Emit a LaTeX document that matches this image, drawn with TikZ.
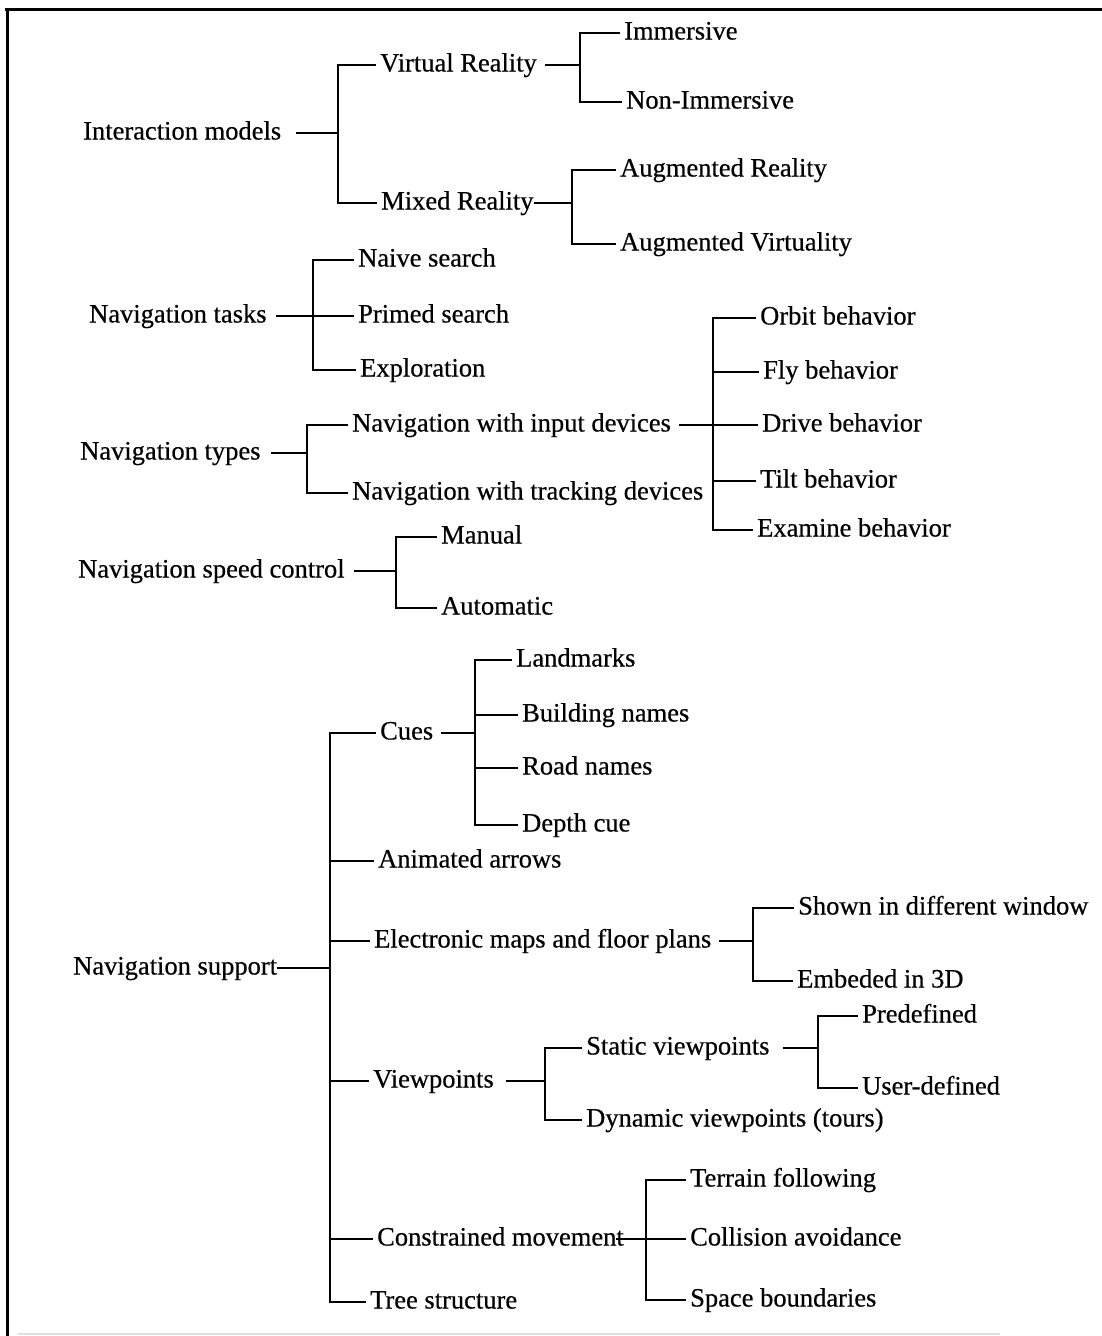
\documentclass[tikz,border=0pt]{standalone}
\usepackage{fontspec}
\setmainfont{Liberation Serif}
\newfontfamily\treefont{Liberation Serif}[FakeBold=0.5]
\begin{document}
\begin{tikzpicture}[x=1pt,y=-1pt,
  lbl/.style={anchor=west, inner xsep=4pt, inner ysep=0pt,
    text height=18pt, text depth=5pt, font=\treefont\fontsize{26.5}{30}\selectfont},
  link/.style={line width=2.8pt, line join=miter},
  frameline/.style={line width=3pt}]
\useasboundingbox (0,0) rectangle (1102,1336);

% outer frame
\draw[frameline] (5,9) -- (1102,9);
\draw[frameline] (7,7.5) -- (7,1336);
\draw[gray!25, line width=2pt] (18,1334) -- (1000,1334);

% bracket columns
\coordinate (b1) at (338,0);
\coordinate (b2) at (580,0);
\coordinate (b3) at (572,0);
\coordinate (b4) at (313,0);
\coordinate (b5) at (307,0);
\coordinate (b6) at (713,0);
\coordinate (b7) at (396,0);
\coordinate (b8) at (330,0);
\coordinate (b9) at (475,0);
\coordinate (b10) at (753,0);
\coordinate (b11) at (545,0);
\coordinate (b12) at (818,0);
\coordinate (b13) at (646,0);

% ---- Interaction models
\node[lbl] (im)   at (79,133)  {Interaction models};
\node[lbl] (vr)   at (376,65)  {Virtual Reality};
\node[lbl] (imm)  at (620,33)  {Immersive};
\node[lbl] (nimm) at (622,102) {Non-Immersive};
\node[lbl] (mr)   at (377,203) {Mixed Reality};
\node[lbl] (ar)   at (616,170) {Augmented Reality};
\node[lbl] (av)   at (616,244) {Augmented Virtuality};

\draw[link] ([xshift=11]im.east) -- (b1 |- im.east);
\draw[link] (vr.west) -- (b1 |- vr.west) -- (b1 |- mr.west) -- (mr.west);
\draw[link] ([xshift=4]vr.east) -- (b2 |- vr.east);
\draw[link] (imm.west) -- (b2 |- imm.west) -- (b2 |- nimm.west) -- (nimm.west);
\draw[link] ([xshift=-4]mr.east) -- (b3 |- mr.east);
\draw[link] (ar.west) -- (b3 |- ar.west) -- (b3 |- av.west) -- (av.west);

% ---- Navigation tasks
\node[lbl] (nt)     at (85,316)  {Navigation tasks};
\node[lbl] (naive)  at (354,260) {Naive search};
\node[lbl] (primed) at (354,316) {Primed search};
\node[lbl] (expl)   at (356,370) {Exploration};

\draw[link] ([xshift=5]nt.east) -- (primed.west);
\draw[link] (naive.west) -- (b4 |- naive.west) -- (b4 |- expl.west) -- (expl.west);

% ---- Navigation types
\node[lbl] (nty)   at (76,453)  {Navigation types};
\node[lbl] (nwid)  at (348,425) {Navigation with input devices};
\node[lbl] (nwtd)  at (348,493) {Navigation with tracking devices};
\node[lbl] (orbit) at (756,318) {Orbit behavior};
\node[lbl] (fly)   at (759,372) {Fly behavior};
\node[lbl] (drive) at (758,425) {Drive behavior};
\node[lbl] (tilt)  at (756,481) {Tilt behavior};
\node[lbl] (exam)  at (753,530) {Examine behavior};

\draw[link] ([xshift=6]nty.east) -- (b5 |- nty.east);
\draw[link] (nwid.west) -- (b5 |- nwid.west) -- (b5 |- nwtd.west) -- (nwtd.west);
\draw[link] ([xshift=4]nwid.east) -- (drive.west);
\draw[link] (orbit.west) -- (b6 |- orbit.west) -- (b6 |- exam.west) -- (exam.west);
\draw[link] (b6 |- fly.west) -- (fly.west);
\draw[link] (b6 |- tilt.west) -- (tilt.west);

% ---- Navigation speed control
\node[lbl] (nsc)  at (74,571)  {Navigation speed control};
\node[lbl] (man)  at (437,537) {Manual};
\node[lbl] (auto) at (437,608) {Automatic};

\draw[link] ([xshift=5]nsc.east) -- (b7 |- nsc.east);
\draw[link] (man.west) -- (b7 |- man.west) -- (b7 |- auto.west) -- (auto.west);

% ---- Navigation support
\node[lbl] (ns)    at (69,968)   {Navigation support};
\node[lbl] (cues)  at (376,733)  {Cues};
\node[lbl] (land)  at (512,660)  {Landmarks};
\node[lbl] (bldg)  at (518,715)  {Building names};
\node[lbl] (road)  at (518,768)  {Road names};
\node[lbl] (depth) at (518,825)  {Depth cue};
\node[lbl] (anim)  at (374,861)  {Animated arrows};
\node[lbl] (emfp)  at (370,941)  {Electronic maps and floor plans};
\node[lbl] (shown) at (794,908)  {Shown in different window};
\node[lbl] (emb)   at (793,981)  {Embeded in 3D};
\node[lbl] (vp)    at (369,1081) {Viewpoints};
\node[lbl] (sv)    at (582,1048) {Static viewpoints};
\node[lbl] (pre)   at (858,1016) {Predefined};
\node[lbl] (ud)    at (858,1088) {User-defined};
\node[lbl] (dv)    at (582,1120) {Dynamic viewpoints (tours)};
\node[lbl] (cm)    at (373,1239) {Constrained movement};
\node[lbl] (ter)   at (686,1180) {Terrain following};
\node[lbl] (col)   at (686,1239) {Collision avoidance};
\node[lbl] (spc)   at (686,1300) {Space boundaries};
\node[lbl] (tree)  at (366,1302) {Tree structure};

\draw[link] ([xshift=-4]ns.east) -- (b8 |- ns.east);
\draw[link] (cues.west) -- (b8 |- cues.west) -- (b8 |- tree.west) -- (tree.west);
\draw[link] (b8 |- anim.west) -- (anim.west);
\draw[link] (b8 |- emfp.west) -- (emfp.west);
\draw[link] (b8 |- vp.west) -- (vp.west);
\draw[link] (b8 |- cm.west) -- (cm.west);

\draw[link] ([xshift=4]cues.east) -- (b9 |- cues.east);
\draw[link] (land.west) -- (b9 |- land.west) -- (b9 |- depth.west) -- (depth.west);
\draw[link] (b9 |- bldg.west) -- (bldg.west);
\draw[link] (b9 |- road.west) -- (road.west);

\draw[link] ([xshift=4]emfp.east) -- (b10 |- emfp.east);
\draw[link] (shown.west) -- (b10 |- shown.west) -- (b10 |- emb.west) -- (emb.west);

\draw[link] ([xshift=8]vp.east) -- (b11 |- vp.east);
\draw[link] (sv.west) -- (b11 |- sv.west) -- (b11 |- dv.west) -- (dv.west);

\draw[link] ([xshift=9]sv.east) -- (b12 |- sv.east);
\draw[link] (pre.west) -- (b12 |- pre.west) -- (b12 |- ud.west) -- (ud.west);

\draw[link] ([xshift=-12]cm.east) -- (col.west);
\draw[link] (ter.west) -- (b13 |- ter.west) -- (b13 |- spc.west) -- (spc.west);
\end{tikzpicture}
\end{document}
